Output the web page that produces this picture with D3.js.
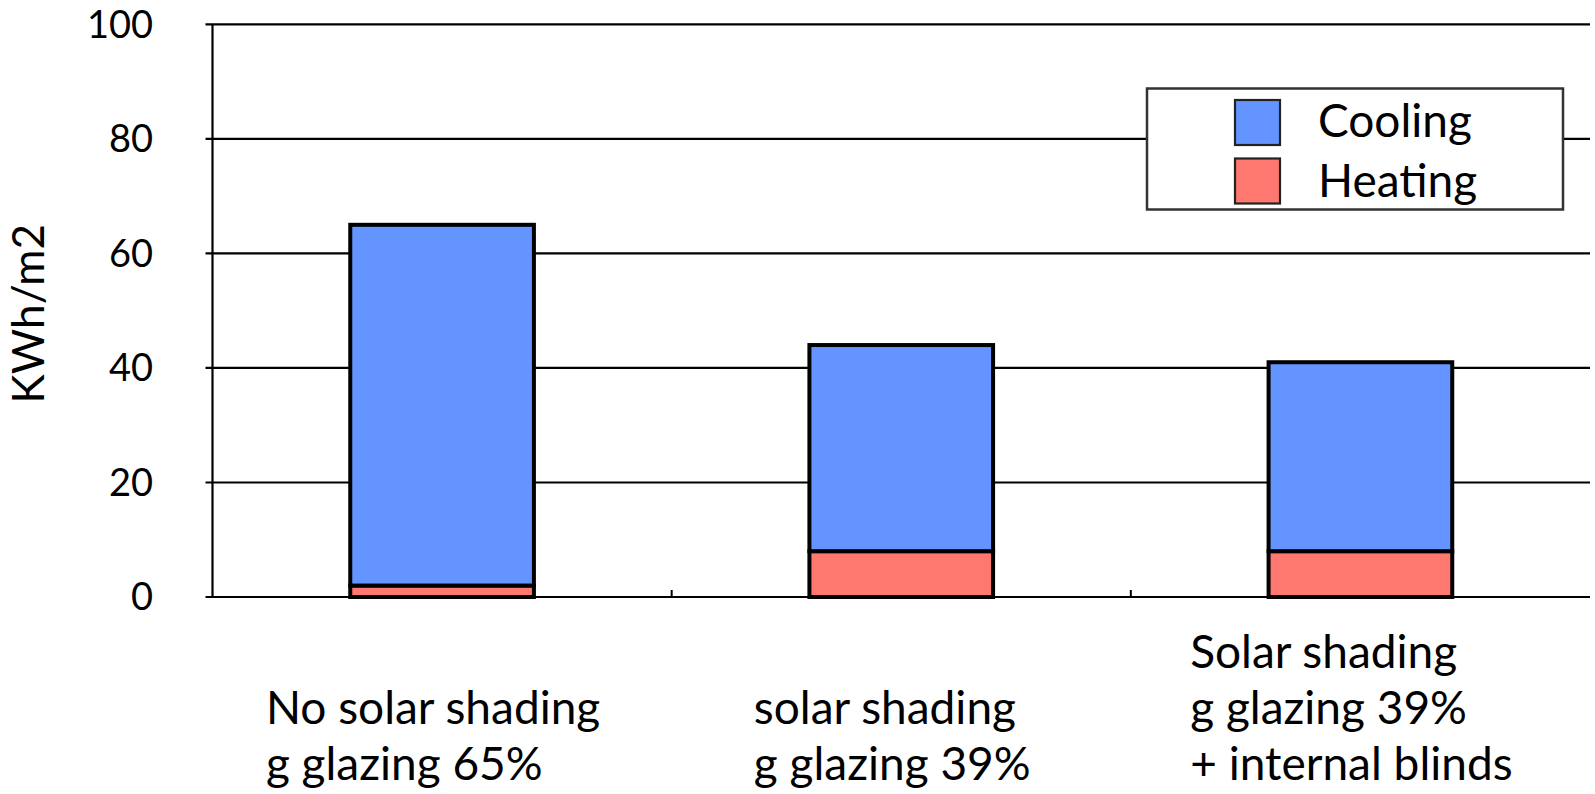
<!DOCTYPE html>
<html><head><meta charset="utf-8">
<script src="https://cdn.jsdelivr.net/npm/d3@7/dist/d3.min.js"></script>
<style>
html,body{margin:0;padding:0;background:#fff;}
svg{display:block;}
text{font-family:Lato,"Noto Sans",sans-serif;fill:#000;}
</style></head>
<body>
<svg id="chart" width="1595" height="794"></svg>
<script>
const categories = [
  ["No solar shading", "g glazing 65%"],
  ["solar shading", "g glazing 39%"],
  ["Solar shading", "g glazing 39%", "+ internal blinds"]
];
const heating = [2, 8, 8];
const cooling = [63, 36, 33];
const yTicks = [0, 20, 40, 60, 80, 100];
const seriesNames = ["Cooling", "Heating"];
const seriesColors = ["#6394FF", "#FF7870"];
const yTitle = "KWh/m2";

const svg = d3.select("#chart");
const L = 212.5, R = 1590, T = 24.4, B = 597;
const fs = 46;

const x = d3.scaleBand().domain(d3.range(categories.length)).range([L, R]).padding(0);
const y = d3.scaleLinear().domain([0, 100]).range([B, T]);
const barW = x.bandwidth() * 0.4;

// gridlines
svg.append("g").selectAll("line").data(yTicks).join("line")
  .attr("x1", L - 7).attr("x2", R)
  .attr("y1", d => y(d)).attr("y2", d => y(d))
  .attr("stroke", "#000").attr("stroke-width", 2.2);

// y axis line
svg.append("line").attr("x1", L).attr("x2", L).attr("y1", T).attr("y2", B)
  .attr("stroke", "#000").attr("stroke-width", 2.2);

// category separator ticks
svg.append("g").selectAll("line").data(d3.range(1, categories.length)).join("line")
  .attr("x1", d => x(d)).attr("x2", d => x(d))
  .attr("y1", B).attr("y2", B - 7)
  .attr("stroke", "#000").attr("stroke-width", 2);

// y tick labels
svg.append("g").selectAll("text").data(yTicks).join("text")
  .attr("x", 153).attr("y", d => y(d)).attr("dy", "0.35em")
  .attr("text-anchor", "end").attr("font-size", 38)
  .text(d => d);

// y title
svg.append("text")
  .attr("transform", `translate(44,${(T + B) / 2 + 3}) rotate(-90)`)
  .attr("text-anchor", "middle").attr("font-size", 44)
  .text(yTitle);

// bars
const stacks = categories.map((c, i) => [
  { s: 1, y0: 0, y1: heating[i], i },
  { s: 0, y0: heating[i], y1: heating[i] + cooling[i], i }
]).flat();
svg.append("g").selectAll("rect").data(stacks).join("rect")
  .attr("x", d => x(d.i) + (x.bandwidth() - barW) / 2)
  .attr("width", barW)
  .attr("y", d => y(d.y1))
  .attr("height", d => y(d.y0) - y(d.y1))
  .attr("fill", d => seriesColors[d.s])
  .attr("stroke", "#000").attr("stroke-width", 4);

// category labels
const lastBaseline = 780, lineH = 56;
categories.forEach((lines, i) => {
  const g = svg.append("g");
  const texts = g.selectAll("text").data(lines).join("text")
    .attr("font-size", fs)
    .attr("y", (d, k) => lastBaseline - (lines.length - 1 - k) * lineH)
    .text(d => d);
  let maxW = 0;
  texts.each(function () { maxW = Math.max(maxW, this.getComputedTextLength()); });
  const cx = x(i) + x.bandwidth() / 2;
  texts.attr("x", cx - maxW / 2 - 9);
});

// legend
const lg = svg.append("g");
lg.append("rect").attr("x", 1147).attr("y", 88.5).attr("width", 416).attr("height", 121)
  .attr("fill", "#fff").attr("stroke", "#333").attr("stroke-width", 2.5);
seriesNames.forEach((n, k) => {
  lg.append("rect").attr("x", 1235).attr("y", 100 + k * 58.5).attr("width", 45).attr("height", 45)
    .attr("fill", seriesColors[k]).attr("stroke", "#222").attr("stroke-width", 2.2);
  lg.append("text").attr("x", 1318).attr("y", 137 + k * 60).attr("font-size", fs).text(n);
});
</script>
</body></html>
